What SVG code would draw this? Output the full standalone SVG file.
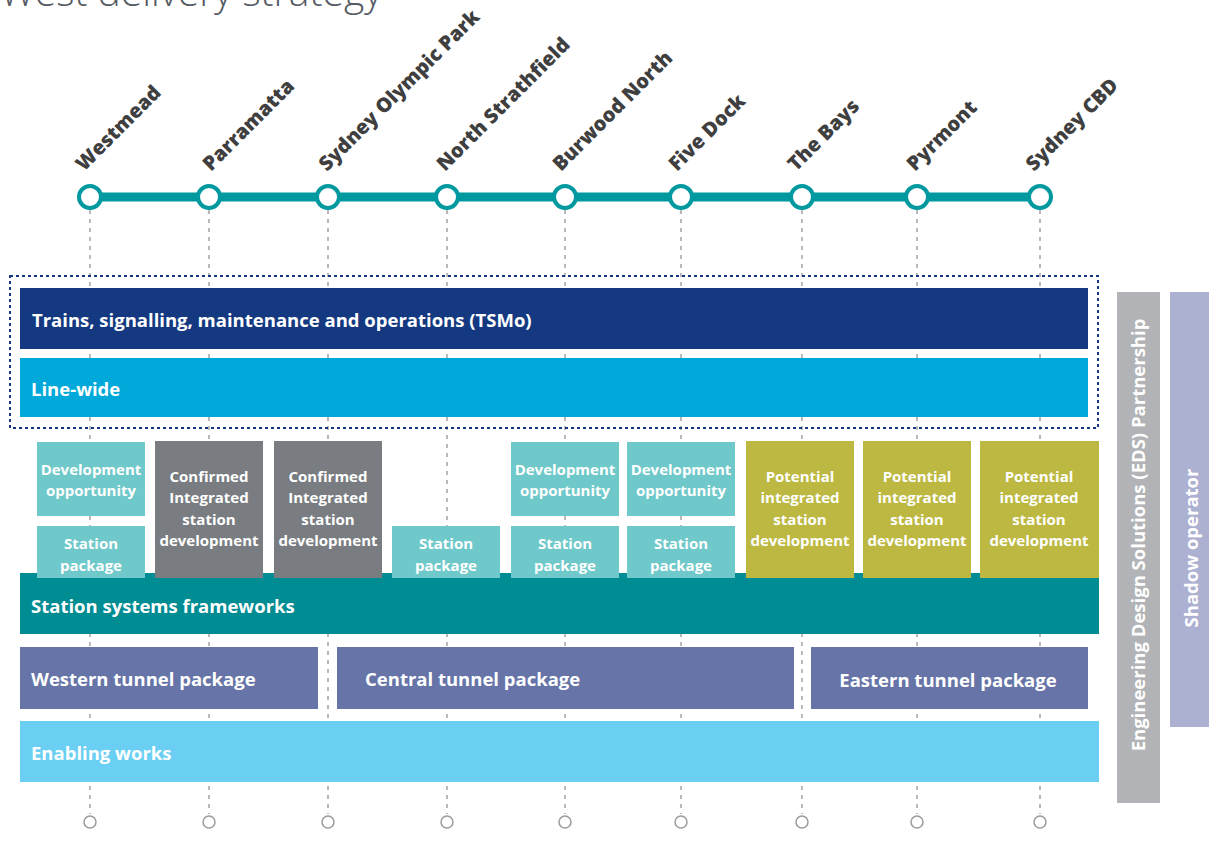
<svg xmlns="http://www.w3.org/2000/svg" width="1209" height="850" viewBox="0 0 1209 850">
<style>
.title{font-family:"Open Sans","Liberation Sans",sans-serif;font-size:39px;fill:#555a63;font-weight:300}
.stn{font-family:"Open Sans","Liberation Sans",sans-serif;font-weight:800;font-size:20px;fill:#3f3f3f}
.lbl{font-family:"Open Sans","Liberation Sans",sans-serif;font-weight:700;fill:#ffffff}
.bar{font-size:18.5px}
.box{font-size:15px;text-anchor:middle}
.guide{stroke:#a3a3a3;stroke-width:1.5;stroke-dasharray:4 5;fill:none}
.stop{fill:#ffffff;stroke:#00999f;stroke-width:4}
.end{fill:#ffffff;stroke:#9b9b9b;stroke-width:1.5}
.dev{fill:#6fc8c9}
.conf{fill:#797c80}
.pot{fill:#bcb842}
.tun{fill:#6674a8}
</style>
<text class="title" x="0" y="6">West delivery strategy</text>
<g id="connectors">
  <g class="guide">
    <line x1="90" y1="210" x2="90" y2="814"/>
    <line x1="209" y1="210" x2="209" y2="814"/>
    <line x1="328" y1="210" x2="328" y2="814"/>
    <line x1="447" y1="210" x2="447" y2="814"/>
    <line x1="565" y1="210" x2="565" y2="814"/>
    <line x1="681" y1="210" x2="681" y2="814"/>
    <line x1="802" y1="210" x2="802" y2="814"/>
    <line x1="917" y1="210" x2="917" y2="814"/>
    <line x1="1040" y1="210" x2="1040" y2="814"/>
  </g>
  <line id="metro-line" x1="90" y1="197" x2="1040" y2="197" stroke="#00999f" stroke-width="9"/>
</g>
<g id="stations">
  <g id="st-westmead"><circle class="stop" cx="90" cy="197" r="11"/><text class="stn" transform="translate(84,172) rotate(-45)">Westmead</text></g>
  <g id="st-parramatta"><circle class="stop" cx="209" cy="197" r="11"/><text class="stn" transform="translate(211,172) rotate(-45)">Parramatta</text></g>
  <g id="st-sop"><circle class="stop" cx="328" cy="197" r="11"/><text class="stn" transform="translate(327,172) rotate(-45)">Sydney Olympic Park</text></g>
  <g id="st-ns"><circle class="stop" cx="447" cy="197" r="11"/><text class="stn" transform="translate(445,172) rotate(-45)">North Strathfield</text></g>
  <g id="st-bn"><circle class="stop" cx="565" cy="197" r="11"/><text class="stn" transform="translate(561,172) rotate(-45)">Burwood North</text></g>
  <g id="st-fd"><circle class="stop" cx="681" cy="197" r="11"/><text class="stn" transform="translate(677,172) rotate(-45)">Five Dock</text></g>
  <g id="st-bays"><circle class="stop" cx="802" cy="197" r="11"/><text class="stn" transform="translate(796,172) rotate(-45)">The Bays</text></g>
  <g id="st-pyrmont"><circle class="stop" cx="917" cy="197" r="11"/><text class="stn" transform="translate(915,172) rotate(-45)">Pyrmont</text></g>
  <g id="st-cbd"><circle class="stop" cx="1040" cy="197" r="11"/><text class="stn" transform="translate(1034,172) rotate(-45)">Sydney CBD</text></g>
</g>
<g id="end-stops">
  <circle class="end" cx="90" cy="822" r="6"/>
  <circle class="end" cx="209" cy="822" r="6"/>
  <circle class="end" cx="328" cy="822" r="6"/>
  <circle class="end" cx="447" cy="822" r="6"/>
  <circle class="end" cx="565" cy="822" r="6"/>
  <circle class="end" cx="681" cy="822" r="6"/>
  <circle class="end" cx="802" cy="822" r="6"/>
  <circle class="end" cx="917" cy="822" r="6"/>
  <circle class="end" cx="1040" cy="822" r="6"/>
</g>
<g id="linewide-group">
  <rect x="10" y="276" width="1088" height="152" fill="none" stroke="#143980" stroke-width="2" stroke-dasharray="3 3"/>
</g>
<g id="tsmo"><rect x="20" y="288" width="1068" height="61" fill="#143980"/><text class="lbl bar" x="32" y="327">Trains, signalling, maintenance and operations (TSMo)</text></g>
<g id="line-wide"><rect x="20" y="358" width="1068" height="59" fill="#00a9d9"/><text class="lbl bar" x="31" y="396">Line-wide</text></g>
<g id="ssf"><rect x="20" y="573" width="1079" height="61" fill="#008c93"/><text class="lbl bar" x="31" y="613">Station systems frameworks</text></g>
<g id="dev-westmead"><rect class="dev" x="37" y="442" width="108" height="74"/><text class="lbl box" x="91" y="475">Development</text><text class="lbl box" x="91" y="496">opportunity</text></g>
<g id="sp-westmead"><rect class="dev" x="37" y="526" width="108" height="52"/><text class="lbl box" x="91" y="549">Station</text><text class="lbl box" x="91" y="571">package</text></g>
<g id="cisd-parramatta"><rect class="conf" x="155" y="441" width="108" height="137"/><text class="lbl box" x="209" y="482">Confirmed</text><text class="lbl box" x="209" y="503">Integrated</text><text class="lbl box" x="209" y="525">station</text><text class="lbl box" x="209" y="546">development</text></g>
<g id="cisd-sop"><rect class="conf" x="274" y="441" width="108" height="137"/><text class="lbl box" x="328" y="482">Confirmed</text><text class="lbl box" x="328" y="503">Integrated</text><text class="lbl box" x="328" y="525">station</text><text class="lbl box" x="328" y="546">development</text></g>
<g id="sp-ns"><rect class="dev" x="392" y="526" width="108" height="52"/><text class="lbl box" x="446" y="549">Station</text><text class="lbl box" x="446" y="571">package</text></g>
<g id="dev-bn"><rect class="dev" x="511" y="442" width="108" height="74"/><text class="lbl box" x="565" y="475">Development</text><text class="lbl box" x="565" y="496">opportunity</text></g>
<g id="sp-bn"><rect class="dev" x="511" y="526" width="108" height="52"/><text class="lbl box" x="565" y="549">Station</text><text class="lbl box" x="565" y="571">package</text></g>
<g id="dev-fd"><rect class="dev" x="627" y="442" width="108" height="74"/><text class="lbl box" x="681" y="475">Development</text><text class="lbl box" x="681" y="496">opportunity</text></g>
<g id="sp-fd"><rect class="dev" x="627" y="526" width="108" height="52"/><text class="lbl box" x="681" y="549">Station</text><text class="lbl box" x="681" y="571">package</text></g>
<g id="pisd-bays"><rect class="pot" x="746" y="441" width="108" height="137"/><text class="lbl box" x="800" y="482">Potential</text><text class="lbl box" x="800" y="503">integrated</text><text class="lbl box" x="800" y="525">station</text><text class="lbl box" x="800" y="546">development</text></g>
<g id="pisd-pyrmont"><rect class="pot" x="863" y="441" width="108" height="137"/><text class="lbl box" x="917" y="482">Potential</text><text class="lbl box" x="917" y="503">integrated</text><text class="lbl box" x="917" y="525">station</text><text class="lbl box" x="917" y="546">development</text></g>
<g id="pisd-cbd"><rect class="pot" x="980" y="441" width="119" height="137"/><text class="lbl box" x="1039" y="482">Potential</text><text class="lbl box" x="1039" y="503">integrated</text><text class="lbl box" x="1039" y="525">station</text><text class="lbl box" x="1039" y="546">development</text></g>
<g id="western-tunnel"><rect class="tun" x="20" y="647" width="298" height="62"/><text class="lbl bar" x="31" y="686">Western tunnel package</text></g>
<g id="central-tunnel"><rect class="tun" x="337" y="647" width="457" height="62"/><text class="lbl bar" x="365" y="686">Central tunnel package</text></g>
<g id="eastern-tunnel"><rect class="tun" x="811" y="647" width="277" height="62"/><text class="lbl bar" x="948" y="687" text-anchor="middle">Eastern tunnel package</text></g>
<g id="enabling"><rect x="20" y="721" width="1079" height="61" fill="#6acff2"/><text class="lbl bar" x="31" y="760">Enabling works</text></g>
<g id="eds"><rect x="1117" y="292" width="43" height="511" fill="#b1b3b6"/><text class="lbl bar" text-anchor="middle" transform="translate(1145,535) rotate(-90)">Engineering Design Solutions (EDS) Partnership</text></g>
<g id="shadow"><rect x="1170" y="292" width="39" height="435" fill="#acb0d1"/><text class="lbl bar" text-anchor="middle" transform="translate(1198,548) rotate(-90)">Shadow operator</text></g>
</svg>
